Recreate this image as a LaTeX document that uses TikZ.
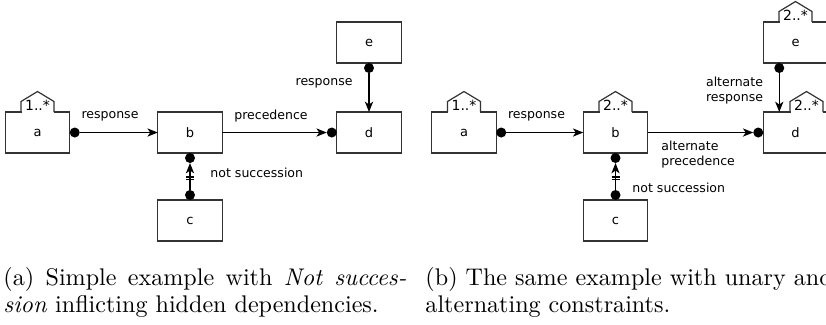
\documentclass[tikz,border=0pt]{standalone}
\usepackage{fontspec}
\newfontfamily\lab{DejaVu Sans}
\usetikzlibrary{arrows.meta,calc}
\def\u{0.415pt}
\newcommand\unarytag[3]{%
  \draw[white, line width=1pt] ([xshift=(#2-16)*\u]#1.north) -- ([xshift=(#2+16)*\u]#1.north);
  \draw[black!80, line width=0.5pt] ([xshift=(#2-16.5)*\u]#1.north) -- ++(0,-10.5) -- ++(16.5,-10) -- ++(16.5,10) -- ++(0,10.5);
  \node[tag] (#1u) at ([xshift=#2*\u, yshift=7*\u]#1.north) {#3};
}
\begin{document}
\begin{tikzpicture}[x=0.415pt,y=-0.415pt,
  box/.style={draw=black!80, line width=0.5pt, minimum width=64.5*\u, minimum height=41*\u, inner sep=0pt, outer sep=0pt, font=\lab\fontsize{5.4}{6}\selectfont},
  dot/.style={circle, fill=black, inner sep=0pt, outer sep=0pt, minimum size=10*\u},
  arr/.style={line width=0.5pt, -{Stealth[length=4.3pt,width=3.4pt,inset=1.2pt]}},
  bar/.style={line width=0.5pt},
  lbl/.style={inner sep=0pt, font=\lab\fontsize{5.2}{6.6}\selectfont},
  tag/.style={inner sep=0pt, font=\lab\fontsize{5.8}{6.6}\selectfont},
  captext/.style={inner sep=0pt, font=\fontsize{10}{12}\selectfont, anchor=base west},
]
\useasboundingbox (0,0) rectangle (826,324);

% ---------- panel (a) ----------
\node[box] (a1) at (37.5,132.5) {a};
\node[box] (b1) at (190,132.5) {b};
\node[box] (d1) at (369,132.5) {d};
\node[box] (e1) at (369,42.5) {e};
\node[box] (c1) at (190,220.5) {c};
\unarytag{a1}{0}{1..*}

\node[dot, anchor=west] (a1r) at (a1.east) {};
\draw[arr] (a1r) -- (b1);
\node[dot, anchor=east] (d1l) at (d1.west) {};
\draw[arr] (b1) -- (d1l);
\node[dot, anchor=north] (e1b) at (e1.south) {};
\draw[arr] (e1b) -- (d1);
\node[dot, anchor=north] (b1b) at (b1.south) {};
\node[dot, anchor=south] (c1t) at (c1.north) {};
\draw[arr] (c1t) -- (b1b);
\coordinate (m1) at ($(c1t)!0.45!(b1b)$);
\draw[bar] ([shift={(-4,-1.3)}]m1) -- ([shift={(4,-1.3)}]m1);
\draw[bar] ([shift={(-4,1.3)}]m1) -- ([shift={(4,1.3)}]m1);

\node[lbl] (l1) at (110,116) {response};
\node[lbl] (l2) at (271,116) {precedence};
\node[lbl, anchor=east] (l3) at (353,83) {response};
\node[lbl, anchor=west] (l4) at (210,172.5) {not succession};

% ---------- panel (b) ----------
\node[box] (a2) at (464,132.5) {a};
\node[box] (b2) at (615.5,132.5) {b};
\node[box] (d2) at (795.5,132.5) {d};
\node[box] (e2) at (795.5,42.5) {e};
\node[box] (c2) at (615.5,220.5) {c};
\unarytag{a2}{0}{1..*}
\unarytag{b2}{0}{2..*}
\unarytag{d2}{11}{2..*}
\unarytag{e2}{0}{2..*}

\node[dot, anchor=west] (a2r) at (a2.east) {};
\draw[arr] (a2r) -- (b2);
\node[dot, anchor=east] (d2l) at (d2.west) {};
\draw[arr] (b2) -- (d2l);
\node[dot, anchor=north] (e2b) at ([xshift=16*\u]e2.south west) {};
\draw[arr] (e2b) -- (e2b |- d2.north);
\node[dot, anchor=north] (b2b) at (b2.south) {};
\node[dot, anchor=south] (c2t) at (c2.north) {};
\draw[arr] (c2t) -- (b2b);
\coordinate (m2) at ($(c2t)!0.45!(b2b)$);
\draw[bar] ([shift={(-4,-1.3)}]m2) -- ([shift={(4,-1.3)}]m2);
\draw[bar] ([shift={(-4,1.3)}]m2) -- ([shift={(4,1.3)}]m2);

\node[lbl] (l5) at (536.5,116) {response};
\node[lbl, anchor=west, align=left] (l6) at (661,154.5) {alternate\\precedence};
\node[lbl, anchor=east, align=right] (l7) at (763.5,90.5) {alternate\\response};
\node[lbl, anchor=west] (l8) at (632,188) {not succession};

% ---------- captions ----------
\node[captext] (ca1) at (3,285) {\makebox[167.2pt][s]{(a) Simple example with \textit{Not succes-}}};
\node[captext] (ca2) at (3,312.7) {\textit{sion} inflicting hidden dependencies.};
\node[captext] (cb1) at (425,285) {(b) The same example with unary and};
\node[captext] (cb2) at (425,312.7) {alternating constraints.};
\end{tikzpicture}
\end{document}
